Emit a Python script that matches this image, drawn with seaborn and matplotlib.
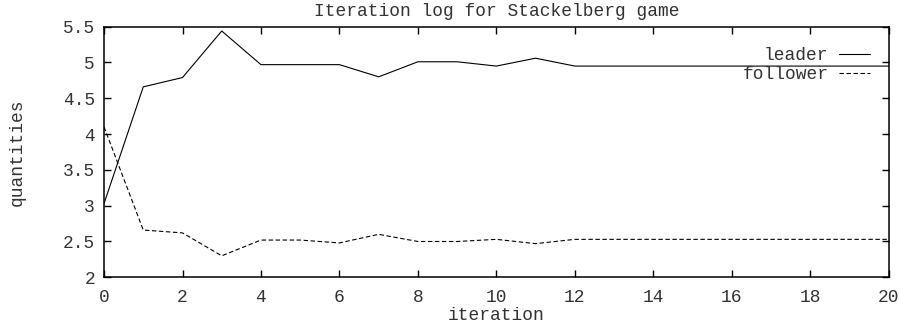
import matplotlib
matplotlib.use('Agg')
import matplotlib.pyplot as plt
import seaborn as sns

# iteration log values
iterations = list(range(21))
leader = [3.03, 4.66, 4.79, 5.44, 4.97, 4.97, 4.97, 4.80, 5.01, 5.01, 4.95,
          5.06, 4.95, 4.95, 4.95, 4.95, 4.95, 4.95, 4.95, 4.95, 4.95]
follower = [4.10, 2.66, 2.62, 2.30, 2.52, 2.52, 2.48, 2.60, 2.50, 2.50, 2.53,
            2.47, 2.53, 2.53, 2.53, 2.53, 2.53, 2.53, 2.53, 2.53, 2.53]
x_ticks = list(range(0, 21, 2))
y_ticks = [2, 2.5, 3, 3.5, 4, 4.5, 5, 5.5]
y_ticklabels = ['2', '2.5', '3', '3.5', '4', '4.5', '5', '5.5']


def make_plot():
    sns.set_theme(style='white')
    plt.rcParams['font.family'] = ['Liberation Mono', 'DejaVu Sans Mono']
    text_color = '#333333'
    fs = 12.9

    fig = plt.figure(figsize=(9, 3.28), dpi=100)
    ax = fig.add_axes([0.1156, 0.1546, 0.8718, 0.764])

    sns.lineplot(x=iterations, y=leader, color='black', linewidth=0.8,
                 label='leader', ax=ax)
    sns.lineplot(x=iterations, y=follower, color='black', linewidth=0.8,
                 linestyle=(0, (4, 2.3)), label='follower', ax=ax)

    ax.set_xlim(0, 20)
    ax.set_ylim(2, 5.5)
    ax.set_xticks(x_ticks)
    ax.set_yticks(y_ticks)
    ax.set_yticklabels(y_ticklabels)

    for s in ax.spines.values():
        s.set_visible(True)
        s.set_color('black')
        s.set_linewidth(1.1)

    ax.tick_params(axis='both', direction='in', length=5, width=1,
                   color='black', labelsize=fs, labelcolor=text_color,
                   top=True, right=True, bottom=True, left=True)
    ax.tick_params(axis='x', pad=8.2)
    ax.tick_params(axis='y', pad=6.5)

    ax.set_title('Iteration log for Stackelberg game', fontsize=fs,
                 color=text_color, pad=7.7)
    ax.set_xlabel('iteration', fontsize=fs, color=text_color)
    ax.xaxis.label.set_va('baseline')
    ax.xaxis.set_label_coords(0.5, -0.172)
    ax.set_ylabel('quantities', fontsize=fs, color=text_color)
    ax.yaxis.label.set_va('center')
    ax.yaxis.set_label_coords(-0.110, 0.5)

    leg = ax.legend(loc='upper right', bbox_to_anchor=(0.976, 0.918),
                    frameon=False, markerfirst=False, fontsize=fs,
                    borderpad=0, borderaxespad=0, labelspacing=0.1,
                    handlelength=1.72, handletextpad=0.6)
    for t in leg.get_texts():
        t.set_color(text_color)
        t.set_ha('right')
    ax.grid(False)

    fig.savefig('out.png', dpi=100)
    plt.close(fig)


if __name__ == '__main__':
    make_plot()
